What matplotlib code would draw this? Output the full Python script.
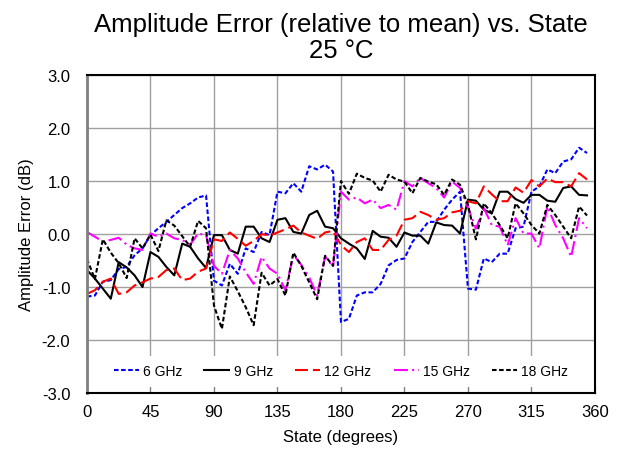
import numpy as np
import matplotlib.pyplot as plt

plt.rcParams['font.family'] = ['Liberation Sans', 'DejaVu Sans']
plt.rcParams['axes.unicode_minus'] = False

# 64 phase states, 5.625 deg apart
state = np.arange(64) * 5.625

err_6 = [-1.18, -1.16, -0.90, -0.87, -0.66, -0.62, -0.40, -0.27, -0.02, 0.11, 0.23, 0.36, 0.49, 0.58, 0.69, 0.73,
         -0.88, -0.97, -0.56, -0.75, -0.27, -0.34, 0.04, -0.02, 0.80, 0.77, 0.96, 0.80, 1.28, 1.22, 1.31, 1.18,
         -1.66, -1.60, -1.16, -1.10, -1.10, -0.94, -0.59, -0.49, -0.46, -0.15, 0.04, 0.23, 0.23, 0.46, 0.65, 0.80,
         -1.03, -1.05, -0.46, -0.53, -0.37, -0.37, 0.11, 0.14, 0.80, 0.90, 1.22, 1.15, 1.37, 1.41, 1.63, 1.53]
err_9 = [-0.68, -0.84, -1.03, -1.22, -0.53, -0.63, -0.78, -1.00, -0.34, -0.43, -0.62, -0.78, -0.18, -0.24, -0.46, -0.64,
         -0.02, -0.02, -0.30, -0.37, 0.14, 0.14, -0.08, -0.15, 0.27, 0.30, 0.04, 0.01, 0.36, 0.44, 0.14, 0.11,
         -0.08, -0.18, -0.27, -0.47, 0.06, -0.05, -0.07, -0.24, 0.03, -0.03, -0.03, -0.18, 0.22, 0.17, 0.16, 0.01,
         0.65, 0.63, 0.46, 0.39, 0.80, 0.80, 0.66, 0.59, 0.74, 0.74, 0.63, 0.61, 0.87, 0.90, 0.74, 0.73]
err_12 = [-1.13, -1.06, -0.90, -0.84, -1.13, -1.10, -0.97, -0.91, -0.84, -0.81, -0.68, -0.65, -0.87, -0.84, -0.71, -0.65,
          -0.10, -0.13, 0.03, -0.09, -0.22, -0.13, 0.00, -0.03, 0.03, 0.09, 0.16, 0.03, -0.03, -0.09, 0.03, 0.06,
          -0.21, -0.34, -0.15, -0.08, -0.30, -0.30, -0.11, -0.03, 0.27, 0.30, 0.42, 0.36, 0.27, 0.30, 0.41, 0.44,
          0.62, 0.58, 0.90, 0.75, 0.62, 0.62, 0.88, 0.78, 1.02, 0.90, 1.05, 0.98, 0.98, 0.90, 1.15, 1.03]
err_15 = [0.04, -0.05, -0.14, -0.11, -0.07, -0.20, -0.27, -0.30, 0.01, -0.05, 0.01, -0.08, -0.11, -0.20, 0.01, -0.02,
          -0.60, -0.75, -0.30, -0.46, -0.72, -0.94, -0.43, -0.65, -0.75, -1.06, -0.39, -0.58, -0.82, -1.16, -0.42, -0.62,
          0.80, 0.65, 0.69, 0.58, 0.65, 0.49, 0.55, 0.46, 1.00, 0.90, 1.06, 0.96, 0.87, 0.69, 0.99, 0.87,
          0.50, 0.10, 0.49, 0.17, 0.14, -0.21, 0.30, 0.01, 0.01, -0.27, 0.52, 0.17, -0.08, -0.43, 0.30, 0.11]
err_18 = [-0.47, -0.85, -0.10, -0.35, -0.55, -0.83, -0.08, -0.27, -0.01, -0.32, 0.26, 0.16, -0.04, -0.24, 0.25, 0.11,
          -1.35, -1.79, -0.80, -1.08, -1.38, -1.72, -0.73, -0.97, -0.85, -1.16, -0.35, -0.60, -0.91, -1.23, -0.41, -0.60,
          1.00, 0.76, 1.14, 1.06, 1.01, 0.80, 1.12, 1.03, 0.99, 0.77, 1.06, 0.99, 0.94, 0.74, 1.03, 0.93,
          0.55, -0.10, 0.58, 0.39, 0.17, -0.08, 0.58, 0.39, 0.17, 0.01, 0.55, 0.36, 0.14, -0.08, 0.52, 0.35]

labels = ['6 GHz', '9 GHz', '12 GHz', '15 GHz', '18 GHz']

fig = plt.figure(figsize=(6.23, 4.56), dpi=100)
ax = fig.add_axes([0.1396, 0.136, 0.8154, 0.697])

lw = 1.5
ax.plot(state, err_6, color='#0000ff', lw=lw, dashes=(2.2, 1.2), label=labels[0])
ax.plot(state, err_9, color='black', lw=lw, label=labels[1])
ax.plot(state, err_12, color='#ff0000', lw=lw, dashes=(6.2, 2.4), label=labels[2])
ax.plot(state, err_15, color='#ff00ff', lw=lw, dashes=(6.7, 2, 1, 2), label=labels[3])
ax.plot(state, err_18, color='black', lw=lw, dashes=(2.2, 1.2), label=labels[4])

ax.set_xlim(0, 360)
ax.set_ylim(-3, 3)
ax.set_xticks(np.arange(0, 361, 45))
ax.set_yticks(np.arange(-3, 3.1, 1))
ax.set_yticklabels(['%.1f' % v for v in np.arange(-3, 3.1, 1)])
ax.grid(True, color='#a0a0a0', lw=1)
ax.set_axisbelow(True)

ax.tick_params(axis='x', direction='in', length=6, color='#808080', pad=8, labelsize=12)
ax.tick_params(axis='y', length=0, pad=12, labelsize=12)

for s in ['top', 'right', 'bottom']:
    ax.spines[s].set_color('black')
    ax.spines[s].set_linewidth(1.5)
ax.spines['left'].set_color('#808080')
ax.spines['left'].set_linewidth(2)

ax.set_xlabel('State (degrees)', fontsize=12)
ax.set_ylabel('Amplitude Error (dB)', fontsize=12)
ax.xaxis.set_label_coords(0.5, -0.112)
ax.yaxis.set_label_coords(-0.104, 0.5)

ax.set_title('Amplitude Error (relative to mean) vs. State\n25 \u00b0C', fontsize=18.5,
             pad=13, linespacing=1.1)

leg = ax.legend(loc='lower center', bbox_to_anchor=(0.5, 0.02), ncol=5,
                fontsize=10, frameon=True, facecolor='white', edgecolor='none', framealpha=1,
                handlelength=1.8, handletextpad=0.3, columnspacing=1.6,
                borderaxespad=0, borderpad=0.6, fancybox=False)

fig.savefig('out.png', dpi=100)
